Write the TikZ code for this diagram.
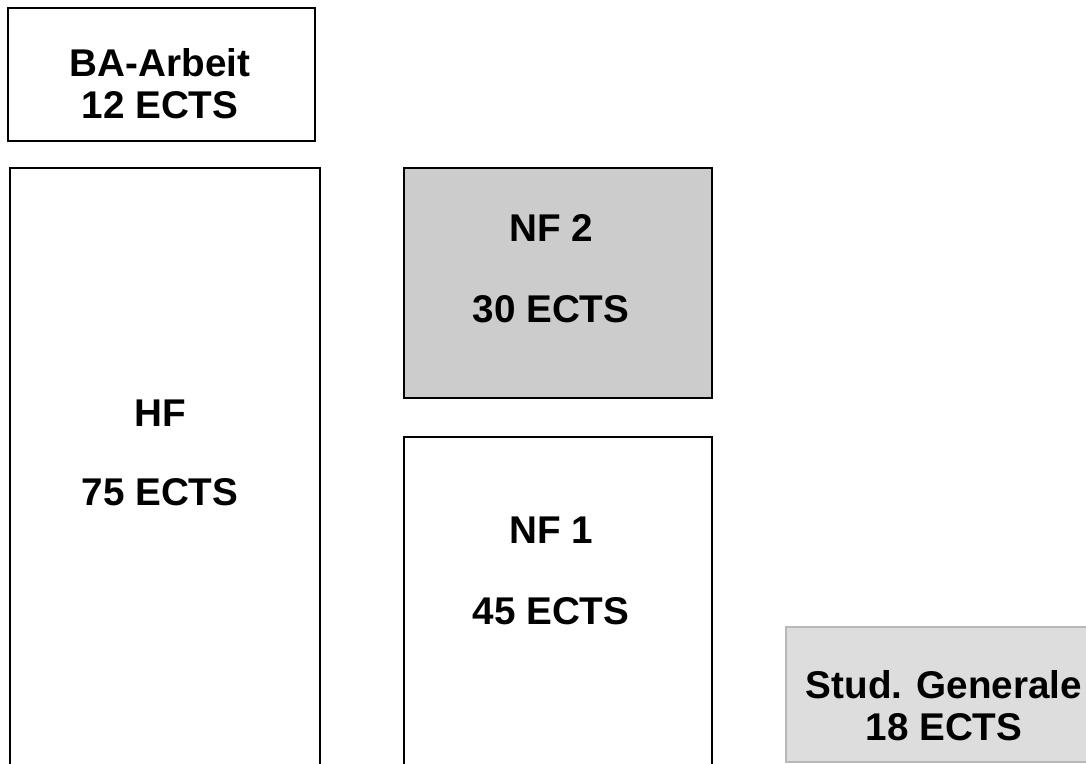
\documentclass[tikz,border=0pt]{standalone}
\usepackage{fontspec}
\setmainfont{Liberation Sans}
\usetikzlibrary{fit}
\definecolor{nfgray}{HTML}{CCCCCC}
\definecolor{sggray}{HTML}{DDDDDD}
\definecolor{sgline}{HTML}{B8B8B8}
\tikzset{
  box/.style={draw,line width=1.2pt,inner sep=0pt},
  shaded/.style={box,fill=nfgray},
  light/.style={draw=sgline,fill=sggray,line width=1.2pt,inner sep=0pt},
  label/.style={align=center,font=\fontsize{22}{24}\bfseries\selectfont}
}
\begin{document}
\begin{tikzpicture}[x=0.02cm,y=-0.02cm]
    \useasboundingbox (0,0) rectangle (1086,764);
    \clip (0,0) rectangle (1086,764);

    % boxes
    \node[box,fit={(8,8) (315,141)}] (ba) {};
    \node[box,fit={(10,168) (320,790)}] (hf) {};
    \node[shaded,fit={(404,168) (712,398)}] (nf2) {};
    \node[box,fit={(404,437) (712,790)}] (nf1) {};
    \node[light,fit={(786,627) (1110,762)}] (sg) {};

    % texts
    \node[label] (batext) at (160,84) {BA-Arbeit\\12 ECTS};
    \node[label] (hftext) at (160,453) {HF\\[21pt]75 ECTS};
    \node[label] (nf2text) at (551,269) {NF 2\\[22pt]30 ECTS};
    \node[label] (nf1text) at (551,571) {NF 1\\[22pt]45 ECTS};
    \node[label] (sgtext) at (944,706) {Stud. Generale\\18 ECTS};
\end{tikzpicture}
\end{document}
